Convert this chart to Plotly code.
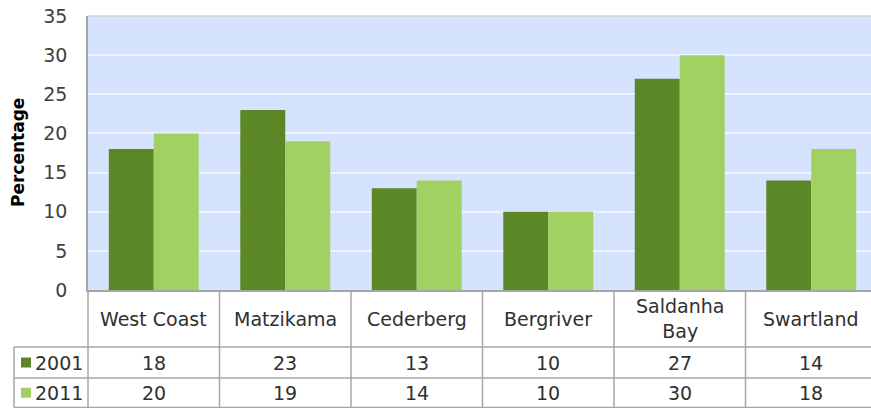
import plotly.graph_objects as go

categories = ["West Coast", "Matzikama", "Cederberg", "Bergriver", "Saldanha Bay", "Swartland"]
cat_labels = ["West Coast", "Matzikama", "Cederberg", "Bergriver", "Saldanha<br>Bay", "Swartland"]
series_names = ["2001", "2011"]
values_2001 = [18, 23, 13, 10, 27, 14]
values_2011 = [20, 19, 14, 10, 30, 18]
colors = ["#5C8727", "#A1D063"]

W, H = 877, 408
L, R, T, B = 88, 0, 16, 118
pw, ph = W - L - R, H - T - B

def px_x(p):
    return (p - L) / pw

def px_y(p):
    return (H - B - p) / ph

fig = go.Figure()
for name, vals, c in zip(series_names, [values_2001, values_2011], colors):
    fig.add_trace(go.Bar(x=categories, y=vals, name=name, marker=dict(color=c, line=dict(width=0))))

font = "DejaVu Sans"
grey = "#A6A6A6"
txt = "#303030"
fs = 19
shapes = []
annotations = []
n = len(categories)
colw = 1.0 / n
y_rows = [0, px_y(347), px_y(378), px_y(407.5)]
x_leg = px_x(14)
for yr in y_rows[1:]:
    shapes.append(dict(type="line", xref="paper", yref="paper", x0=x_leg, x1=1, y0=yr, y1=yr, line=dict(color=grey, width=1.5)))
for i in range(n + 1):
    shapes.append(dict(type="line", xref="paper", yref="paper", x0=i * colw, x1=i * colw, y0=y_rows[3], y1=y_rows[0], line=dict(color=grey, width=1.5)))
shapes.append(dict(type="line", xref="paper", yref="paper", x0=x_leg, x1=x_leg, y0=y_rows[3], y1=y_rows[1], line=dict(color=grey, width=1.5)))
shapes.append(dict(type="line", xref="paper", yref="paper", x0=0, x1=1, y0=1, y1=1, line=dict(color="#D0D0D0", width=1.5)))

for i, lab in enumerate(cat_labels):
    annotations.append(dict(xref="paper", yref="paper", x=(i + 0.5) * colw, y=(y_rows[0] + y_rows[1]) / 2,
                            text=lab, showarrow=False, font=dict(family=font, size=fs, color=txt),
                            xanchor="center", yanchor="middle"))
for r, vals in enumerate([values_2001, values_2011]):
    yc = (y_rows[r + 1] + y_rows[r + 2]) / 2
    for i, v in enumerate(vals):
        annotations.append(dict(xref="paper", yref="paper", x=(i + 0.5) * colw, y=yc, text=str(v), showarrow=False,
                                font=dict(family=font, size=fs, color=txt), xanchor="center", yanchor="middle"))
    shapes.append(dict(type="rect", xref="paper", yref="paper", x0=px_x(21), x1=px_x(31),
                       y0=yc - 5 / ph, y1=yc + 5 / ph, fillcolor=colors[r], line=dict(width=0)))
    annotations.append(dict(xref="paper", yref="paper", x=px_x(33), y=yc, text=series_names[r], showarrow=False,
                            font=dict(family=font, size=fs, color=txt), xanchor="left", yanchor="middle"))

annotations.append(dict(xref="paper", yref="paper", x=px_x(18), y=0.5, text="<b>Percentage</b>", textangle=-90,
                        showarrow=False, font=dict(family=font, size=17, color="#000000"), xanchor="center", yanchor="middle"))

fig.update_layout(
    width=W, height=H, margin=dict(l=L, r=R, t=T, b=B),
    paper_bgcolor="white", plot_bgcolor="#D6E3FE",
    barmode="group", bargap=0.316, bargroupgap=0,
    showlegend=False, shapes=shapes, annotations=annotations,
    xaxis=dict(showticklabels=False, showgrid=False, zeroline=False, showline=True, linecolor=grey, linewidth=1.5, ticks=""),
    yaxis=dict(range=[0, 35], dtick=5, showgrid=True, gridcolor="#EEF3FD", gridwidth=1.5, zeroline=False,
               showline=True, linecolor=grey, linewidth=1.5, ticks="outside", ticklen=15, tickcolor="rgba(0,0,0,0)",
               tickfont=dict(family=font, size=19, color="#404040")),
)
fig.write_html("out.html", config={"displayModeBar": False},
               post_script="document.body.style.margin='0';document.body.style.padding='0';"
                           "document.body.style.overflow='hidden';document.documentElement.style.overflow='hidden';")
